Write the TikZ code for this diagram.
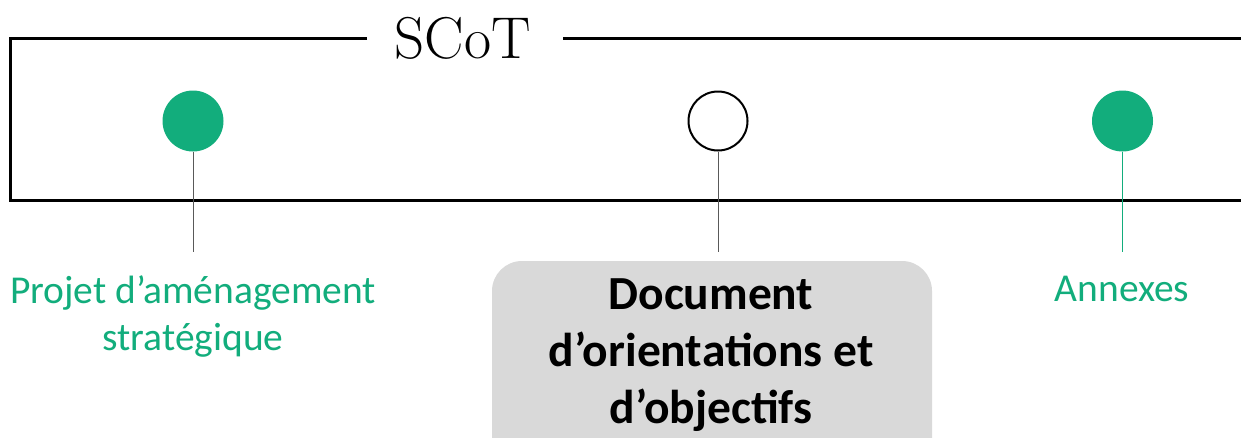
\documentclass[tikz,border=0pt]{standalone}
\usepackage{fontspec}
\setmainfont{Carlito}
\newfontfamily\lmfont{Latin Modern Roman}
\definecolor{scgreen}{HTML}{12AD7C}
\definecolor{scgray}{HTML}{D9D9D9}
\definecolor{lnkgray}{HTML}{595959}
\begin{document}
\begin{tikzpicture}[x=1pt,y=-1pt,
  frame/.style={line width=3pt,black},
  dotfull/.style={circle,fill=scgreen,minimum size=61pt,inner sep=0pt},
  dotopen/.style={circle,draw=black,line width=2pt,fill=white,minimum size=59pt,inner sep=0pt},
  linkgray/.style={lnkgray,line width=1pt},
  linkgreen/.style={scgreen,line width=1pt},
  lbl/.style={text=scgreen,font=\fontsize{39.5}{47}\selectfont,align=center,inner sep=0pt,anchor=north},
  doctext/.style={font=\fontsize{47.5}{57}\selectfont\bfseries,align=center,inner sep=0pt,anchor=north}
]
\clip (0,0) rectangle (1241,437);
% frame
\node[inner sep=0pt,anchor=center,font=\lmfont\fontsize{59}{64}\selectfont] (title) at (462.5,38.5) {SCoT};
\coordinate (tl) at (10.5,38);
\coordinate (bl) at (10.5,200);
\coordinate (tr) at (1245,38);
\coordinate (br) at (1245,200);
\coordinate (gapL) at (367,38);
\coordinate (gapR) at (563,38);
\draw[frame] (gapL) -- (tl) -- (bl) -- (br);
\draw[frame] (gapR) -- (tr);
% dots
\node[dotfull] (c1) at (193,121) {};
\node[dotopen] (c2) at (718,121) {};
\node[dotfull] (c3) at (1122.5,121) {};
\coordinate (e1) at (193,252);
\coordinate (e2) at (718,252);
\coordinate (e3) at (1122.5,252);
\draw[linkgray] (c1.south) -- (e1);
\draw[linkgray] (c2.south) -- (e2);
\draw[linkgreen] (c3.south) -- (e3);
% labels
\node[lbl] (l1) at (193,275.5) {Projet d’aménagement\\stratégique};
\node[lbl] (l3) at (1122,275.5) {Annexes};
% document box
\fill[scgray,rounded corners=30pt] (492,261) rectangle (932,480);
\node[doctext] (doc) at (711,278) {Document\\d’orientations et\\d’objectifs};
\end{tikzpicture}
\end{document}
